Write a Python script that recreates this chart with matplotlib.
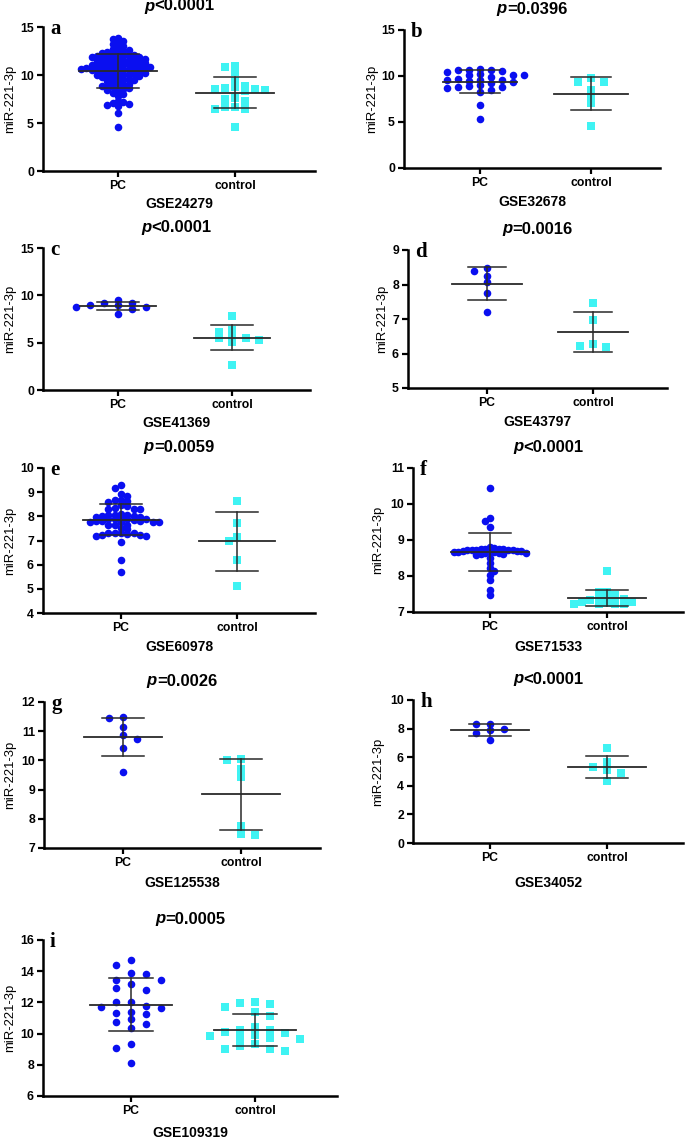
import numpy as np
import matplotlib.pyplot as plt
from matplotlib.offsetbox import TextArea, HPacker, AnnotationBbox

plt.rcParams['font.family'] = ['Liberation Sans', 'DejaVu Sans']

# ---- data ----
groups = ['PC', 'control']

a_pc = [13.9, 13.8, 13.5, 13.3, 13.2, 13.0, 12.8, 12.7, 12.6, 12.5, 12.4, 12.3, 12.3,
        12.2, 12.1, 12.1, 12.0, 12.0, 11.9, 11.9, 11.9, 11.8, 11.8, 11.7, 11.7, 11.6,
        11.6, 11.5, 11.5, 11.4, 11.4, 11.3, 11.3, 11.2, 11.2, 11.1, 11.1, 11.0, 11.0,
        11.0, 10.9, 10.9, 10.8, 10.8, 10.8, 10.7, 10.7, 10.7, 10.6, 10.6, 10.6, 10.5,
        10.5, 10.5, 10.4, 10.4, 10.3, 10.3, 10.2, 10.2, 10.1, 10.1, 10.0, 10.0, 9.9,
        9.9, 9.8, 9.8, 9.7, 9.6, 9.5, 9.5, 9.4, 9.3, 9.2, 9.1, 9.0, 8.9, 8.9, 8.8, 8.7,
        8.6, 8.5, 8.4, 8.3, 8.1, 8.0, 7.8, 7.3, 7.2, 7.1, 7.0, 6.9, 6.8, 6.0, 4.6]
a_ctrl = [10.9, 10.8, 10.3, 9.4, 8.9, 8.8, 8.6, 8.5, 8.5, 8.4, 8.3, 7.6, 7.5, 7.3,
          6.7, 6.7, 6.5, 6.5, 4.6]

b_pc = [10.8, 10.7, 10.6, 10.6, 10.5, 10.4, 10.2, 10.1, 10.1, 10.1, 9.9, 9.7, 9.6,
        9.6, 9.6, 9.5, 9.4, 9.2, 9.0, 8.9, 8.8, 8.8, 8.7, 8.5, 8.3, 6.8, 5.3]
b_ctrl = [9.8, 9.4, 9.3, 8.5, 7.9, 7.1, 4.6]

c_pc = [9.5, 9.2, 9.2, 9.0, 8.95, 8.8, 8.8, 8.6, 8.0]
c_ctrl = [7.8, 6.3, 6.1, 5.7, 5.5, 5.5, 5.3, 5.1, 2.6]

d_pc = [8.47, 8.39, 8.26, 8.06, 7.76, 7.21]
d_ctrl = [7.46, 6.98, 6.27, 6.21, 6.19]

e_pc = [9.31, 9.17, 8.92, 8.83, 8.66, 8.66, 8.62, 8.59, 8.45, 8.41, 8.35, 8.32, 8.32,
        8.32, 8.11, 8.07, 8.07, 8.07, 8.03, 8.0, 7.97, 7.97, 7.93, 7.89, 7.89, 7.89,
        7.89, 7.84, 7.8, 7.8, 7.8, 7.76, 7.75, 7.75, 7.75, 7.65, 7.65, 7.65, 7.52,
        7.48, 7.33, 7.33, 7.33, 7.33, 7.28, 7.24, 7.21, 7.17, 7.17, 6.92, 6.18, 5.68]
e_ctrl = [8.65, 7.71, 7.16, 6.97, 6.18, 5.12]

f_pc = [10.44, 9.62, 9.54, 9.35, 8.80, 8.79, 8.76, 8.75, 8.74, 8.74, 8.73, 8.73, 8.72,
        8.72, 8.71, 8.70, 8.70, 8.69, 8.68, 8.68, 8.67, 8.66, 8.65, 8.64, 8.63, 8.62,
        8.60, 8.58, 8.49, 8.37, 8.21, 8.14, 8.02, 7.90, 7.62, 7.46]
f_ctrl = [8.14, 7.56, 7.56, 7.47, 7.39, 7.37, 7.37, 7.34, 7.33, 7.28, 7.28, 7.25,
          7.23, 7.23, 7.23, 7.21]

g_pc = [11.49, 11.45, 11.13, 10.86, 10.72, 10.43, 9.61]
g_ctrl = [10.05, 10.03, 9.69, 9.42, 7.74, 7.49, 7.45]

h_pc = [8.35, 8.30, 8.0, 7.91, 7.67, 7.21]
h_ctrl = [6.63, 5.65, 5.28, 5.12, 4.88, 4.35]

i_pc = [14.72, 14.38, 13.86, 13.80, 13.44, 13.44, 13.18, 12.90, 12.79, 12.0, 12.0,
        11.79, 11.73, 11.66, 11.36, 11.30, 11.24, 10.91, 10.76, 10.62, 10.34, 9.33,
        9.06, 8.09]
i_ctrl = [12.0, 11.98, 11.88, 11.73, 11.41, 11.13, 10.44, 10.23, 10.23, 10.08, 10.02,
          9.91, 9.87, 9.70, 9.70, 9.65, 9.33, 9.23, 9.01, 9.0, 8.91]

letters = ['a', 'b', 'c', 'd', 'e', 'f', 'g', 'h', 'i']
pvals = ['<0.0001', '=0.0396', '<0.0001', '=0.0016', '=0.0059', '<0.0001',
         '=0.0026', '<0.0001', '=0.0005']
gse = ['GSE24279', 'GSE32678', 'GSE41369', 'GSE43797', 'GSE60978', 'GSE71533',
       'GSE125538', 'GSE34052', 'GSE109319']
pc_vals = [a_pc, b_pc, c_pc, d_pc, e_pc, f_pc, g_pc, h_pc, i_pc]
ctrl_vals = [a_ctrl, b_ctrl, c_ctrl, d_ctrl, e_ctrl, f_ctrl, g_ctrl, h_ctrl, i_ctrl]
yticks = [[0, 5, 10, 15], [0, 5, 10, 15], [0, 5, 10, 15], [5, 6, 7, 8, 9],
          [4, 5, 6, 7, 8, 9, 10], [7, 8, 9, 10, 11], [7, 8, 9, 10, 11, 12],
          [0, 2, 4, 6, 8, 10], [6, 8, 10, 12, 14, 16]]

# ---- layout (pixels in the 685x1138 image) ----
W, H = 685, 1138
# left, top, right, bottom of axes; x pixel of PC / control
boxes = [(43, 27, 315, 171), (404, 30, 660, 168), (43, 248, 310, 390),
         (408, 250, 667, 388), (43, 468, 315, 613), (413, 468, 683, 612),
         (44, 702, 320, 848), (413, 700, 683, 843), (43, 940, 337, 1096)]
catx = [(118, 235), (480, 591), (118, 232), (487, 593), (121, 237), (490, 607),
        (123, 241), (490, 607), (131, 255)]
# swarm column spacing / min vertical distance in px, for PC and control
swarm_px = [((5.3, 4.0), (10, 5)), ((11, 5), (13, 5)), ((14, 5), (13.5, 5)),
            ((13, 6), (13, 6)), ((6.3, 4), (8, 5)), ((4.5, 4), (8.3, 4)),
            ((14, 6), (14, 6)), ((14, 6), (14, 6)), ((15, 7), (15, 7))]
ylab_off = [33, 32, 33, 26, 33, 35, 34, 35, 33]
xlab_off = [33, 34, 33, 34, 34, 35, 35, 40, 37]

BLUE = '#0a0ff0'
CYAN = '#3ff3f3'
LINE = '#2a2a2a'
PT = 0.72  # points per pixel at 100 dpi


def swarm(vals, col_px, row_px, ppu_y):
    vals = np.asarray(vals, float)
    order = np.argsort(-vals, kind='stable')
    placed = {}
    side = {-1: 0, 1: 0}
    offs = np.zeros(len(vals))
    for i in order:
        y = vals[i] * ppu_y
        free = lambda k: all(abs(y - yy) >= row_px for yy in placed.get(k, []))
        if free(0):
            k = 0
        else:
            k = None
            for n in range(1, 60):
                cands = [c for c in (-n, n) if free(c)]
                if cands:
                    cands.sort(key=lambda c: side[np.sign(c)])
                    k = cands[0]
                    break
            side[int(np.sign(k))] += 1
        placed.setdefault(k, []).append(y)
        offs[i] = k * col_px
    return offs


fig = plt.figure(figsize=(W / 100, H / 100), dpi=100)

for n in range(9):
    L, T, R, B = boxes[n]
    p0, p1 = catx[n]
    unit = p1 - p0
    ax = fig.add_axes([L / W, 1 - B / H, (R - L) / W, (B - T) / H])
    ymin, ymax = yticks[n][0], yticks[n][-1]
    ax.set_xlim((L - p0) / unit, (R - p0) / unit)
    ax.set_ylim(ymin, ymax)
    ppu_y = (B - T) / (ymax - ymin)

    for g, (vals, col, mk) in enumerate([(pc_vals[n], BLUE, 'o'),
                                         (ctrl_vals[n], CYAN, 's')]):
        cpx, rpx = swarm_px[n][g]
        xs = g + swarm(vals, cpx, rpx, ppu_y) / unit
        ax.scatter(xs, vals, s=30, marker=mk, color=col, linewidths=0, zorder=2)
        m = np.mean(vals)
        sd = np.std(vals, ddof=1)
        ax.plot([g - 0.33, g + 0.33], [m, m], color=LINE, lw=1.3, zorder=3)
        ax.plot([g - 0.18, g + 0.18], [m + sd, m + sd], color=LINE, lw=1.1, zorder=3)
        ax.plot([g - 0.18, g + 0.18], [m - sd, m - sd], color=LINE, lw=1.1, zorder=3)
        ax.plot([g, g], [m - sd, m + sd], color=LINE, lw=1.1, zorder=3)

    for s in ['top', 'right']:
        ax.spines[s].set_visible(False)
    for s in ['left', 'bottom']:
        ax.spines[s].set_linewidth(1.8)
    ax.set_xticks([0, 1])
    ax.set_xticklabels(groups)
    ax.set_yticks(yticks[n])
    ax.tick_params(direction='out', length=4.5, width=1.6, labelsize=8.8, pad=2)
    for lab in ax.get_xticklabels() + ax.get_yticklabels():
        lab.set_fontweight('bold')

    ax.annotate('miR-221-3p', xy=(0, 0.5), xycoords='axes fraction',
                xytext=(-ylab_off[n] * PT, 0), textcoords='offset points',
                rotation=90, ha='center', va='center', fontsize=9.4)
    ax.annotate(gse[n], xy=(0.5, 0), xycoords='axes fraction',
                xytext=(0, -xlab_off[n] * PT), textcoords='offset points',
                ha='center', va='center', fontsize=10, fontweight='bold')
    ax.annotate(letters[n], xy=(0, 1), xycoords='axes fraction',
                xytext=(7 * PT, -7 * PT), textcoords='offset points',
                ha='left', va='baseline', fontsize=15, fontweight='bold',
                family=['Liberation Serif', 'DejaVu Serif'])

    t1 = TextArea('p', textprops=dict(fontstyle='italic', fontweight='bold', fontsize=12))
    t2 = TextArea(pvals[n], textprops=dict(fontweight='bold', fontsize=12))
    box = HPacker(children=[t1, t2], align='baseline', pad=0, sep=0)
    ab = AnnotationBbox(box, (0.5, 1), xycoords='axes fraction',
                        xybox=(0, 21 * PT), boxcoords='offset points',
                        frameon=False, box_alignment=(0.5, 0.5))
    ax.add_artist(ab)

fig.savefig('out.png', dpi=100)
